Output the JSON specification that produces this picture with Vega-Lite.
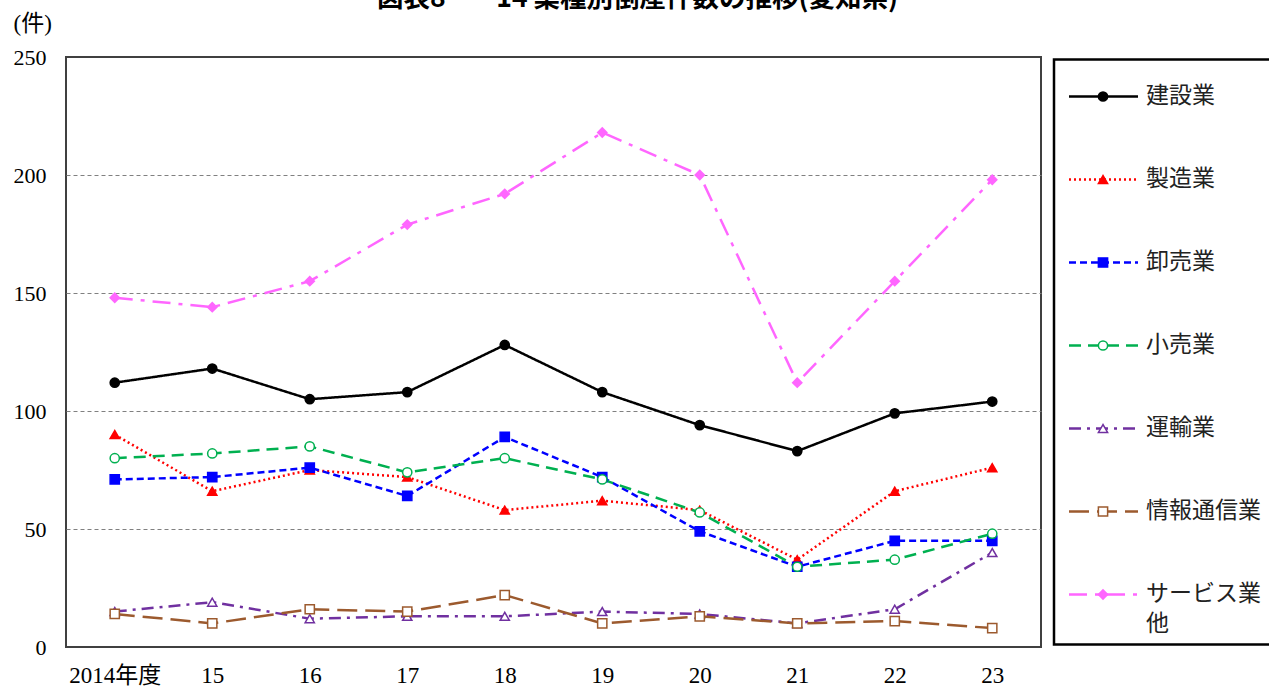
{
  "$schema": "https://vega.github.io/schema/vega-lite/v6.json",
  "autosize": {"type": "pad"},
  "padding": {"left": 12, "top": -15, "right": -3, "bottom": 0},
  "background": "white",
  "bounds": "flush",
  "center": true,
  "spacing": 13,
  "title": {"text": "図表8\u00a0\u00a0－\u00a0\u00a014\u00a0業種別倒産件数の推移(愛知県)", "font": "Noto Sans CJK JP", "fontSize": 26.5, "fontWeight": "bold", "anchor": "middle", "dx": -5, "baseline": "alphabetic", "offset": -22, "color": "black"},
  "datasets": {
    "counts": [
      {"series": "建設業", "year": 2014, "count": 112}, {"series": "建設業", "year": 2015, "count": 118}, {"series": "建設業", "year": 2016, "count": 105}, {"series": "建設業", "year": 2017, "count": 108}, {"series": "建設業", "year": 2018, "count": 128}, {"series": "建設業", "year": 2019, "count": 108}, {"series": "建設業", "year": 2020, "count": 94}, {"series": "建設業", "year": 2021, "count": 83}, {"series": "建設業", "year": 2022, "count": 99}, {"series": "建設業", "year": 2023, "count": 104},
      {"series": "製造業", "year": 2014, "count": 90}, {"series": "製造業", "year": 2015, "count": 66}, {"series": "製造業", "year": 2016, "count": 75}, {"series": "製造業", "year": 2017, "count": 72}, {"series": "製造業", "year": 2018, "count": 58}, {"series": "製造業", "year": 2019, "count": 62}, {"series": "製造業", "year": 2020, "count": 58}, {"series": "製造業", "year": 2021, "count": 37}, {"series": "製造業", "year": 2022, "count": 66}, {"series": "製造業", "year": 2023, "count": 76},
      {"series": "卸売業", "year": 2014, "count": 71}, {"series": "卸売業", "year": 2015, "count": 72}, {"series": "卸売業", "year": 2016, "count": 76}, {"series": "卸売業", "year": 2017, "count": 64}, {"series": "卸売業", "year": 2018, "count": 89}, {"series": "卸売業", "year": 2019, "count": 72}, {"series": "卸売業", "year": 2020, "count": 49}, {"series": "卸売業", "year": 2021, "count": 34}, {"series": "卸売業", "year": 2022, "count": 45}, {"series": "卸売業", "year": 2023, "count": 45},
      {"series": "小売業", "year": 2014, "count": 80}, {"series": "小売業", "year": 2015, "count": 82}, {"series": "小売業", "year": 2016, "count": 85}, {"series": "小売業", "year": 2017, "count": 74}, {"series": "小売業", "year": 2018, "count": 80}, {"series": "小売業", "year": 2019, "count": 71}, {"series": "小売業", "year": 2020, "count": 57}, {"series": "小売業", "year": 2021, "count": 34}, {"series": "小売業", "year": 2022, "count": 37}, {"series": "小売業", "year": 2023, "count": 48},
      {"series": "運輸業", "year": 2014, "count": 15}, {"series": "運輸業", "year": 2015, "count": 19}, {"series": "運輸業", "year": 2016, "count": 12}, {"series": "運輸業", "year": 2017, "count": 13}, {"series": "運輸業", "year": 2018, "count": 13}, {"series": "運輸業", "year": 2019, "count": 15}, {"series": "運輸業", "year": 2020, "count": 14}, {"series": "運輸業", "year": 2021, "count": 10}, {"series": "運輸業", "year": 2022, "count": 16}, {"series": "運輸業", "year": 2023, "count": 40},
      {"series": "情報通信業", "year": 2014, "count": 14}, {"series": "情報通信業", "year": 2015, "count": 10}, {"series": "情報通信業", "year": 2016, "count": 16}, {"series": "情報通信業", "year": 2017, "count": 15}, {"series": "情報通信業", "year": 2018, "count": 22}, {"series": "情報通信業", "year": 2019, "count": 10}, {"series": "情報通信業", "year": 2020, "count": 13}, {"series": "情報通信業", "year": 2021, "count": 10}, {"series": "情報通信業", "year": 2022, "count": 11}, {"series": "情報通信業", "year": 2023, "count": 8},
      {"series": "サービス業他", "year": 2014, "count": 148}, {"series": "サービス業他", "year": 2015, "count": 144}, {"series": "サービス業他", "year": 2016, "count": 155}, {"series": "サービス業他", "year": 2017, "count": 179}, {"series": "サービス業他", "year": 2018, "count": 192}, {"series": "サービス業他", "year": 2019, "count": 218}, {"series": "サービス業他", "year": 2020, "count": 200}, {"series": "サービス業他", "year": 2021, "count": 112}, {"series": "サービス業他", "year": 2022, "count": 155}, {"series": "サービス業他", "year": 2023, "count": 198}
    ],
    "legend": [
      {"series": "建設業", "label": "建設業"},
      {"series": "製造業", "label": "製造業"},
      {"series": "卸売業", "label": "卸売業"},
      {"series": "小売業", "label": "小売業"},
      {"series": "運輸業", "label": "運輸業"},
      {"series": "情報通信業", "label": "情報通信業"},
      {"series": "サービス業他", "label": "サービス業\n他"}
    ]
  },
  "hconcat": [
    {
      "width": 975,
      "height": 590,
      "data": {"name": "counts"},
      "view": {"stroke": "#404040", "strokeWidth": 2},
      "encoding": {
        "x": {"field": "year", "type": "ordinal", "scale": {"type": "point", "padding": 0.5},
          "axis": {"title": null, "labelExpr": "datum.value == 2014 ? '2014年度' : slice(toString(datum.value), 2)", "ticks": false, "domain": false, "grid": false, "labelAngle": 0, "labelFont": "'Liberation Serif', 'Noto Sans CJK JP'", "labelFontSize": 23, "labelColor": "black", "labelPadding": 17}},
        "y": {"field": "count", "type": "quantitative", "scale": {"domain": [0, 250], "nice": false},
          "axis": {"values": [0, 50, 100, 150, 200, 250], "title": "(件)", "titleAngle": 0, "titleAlign": "left", "titleBaseline": "middle", "titleX": -53, "titleY": -34, "titleFont": "'Liberation Serif', 'Noto Sans CJK JP'", "titleFontSize": 23, "titleFontWeight": "normal", "titleColor": "black", "ticks": false, "domain": false, "labelPadding": 20, "labelFont": "'Liberation Serif'", "labelFontSize": 22, "labelColor": "black", "grid": true, "gridColor": "#808080", "gridDash": [4, 3], "gridWidth": 1, "gridOpacity": {"condition": {"test": "datum.value == 0 || datum.value == 250", "value": 0}, "value": 1}}}
      },
      "layer": [
        {
          "mark": {"type": "line", "strokeWidth": 2.5},
          "encoding": {
            "stroke": {"field": "series", "type": "nominal", "scale": {"domain": ["建設業", "製造業", "卸売業", "小売業", "運輸業", "情報通信業", "サービス業他"], "range": ["#000000", "#FF0000", "#0000FF", "#00B050", "#7030A0", "#9C5A2E", "#FF66FF"]}, "legend": null},
            "strokeDash": {"field": "series", "type": "nominal", "scale": {"domain": ["建設業", "製造業", "卸売業", "小売業", "運輸業", "情報通信業", "サービス業他"], "range": [[1, 0], [2, 3], [7, 4], [12, 7], [12, 6, 3, 6], [20, 8], [18, 8, 4, 8]]}, "legend": null}
          }
        },
        {
          "mark": {"type": "point", "filled": true, "strokeWidth": 1.5, "opacity": 1, "size": 85},
          "encoding": {
            "shape": {"field": "series", "type": "nominal", "scale": {"domain": ["建設業", "製造業", "卸売業", "小売業", "運輸業", "情報通信業", "サービス業他"], "range": ["circle", "triangle-up", "square", "circle", "triangle-up", "square", "diamond"]}, "legend": null},
            "fill": {"field": "series", "type": "nominal", "scale": {"domain": ["建設業", "製造業", "卸売業", "小売業", "運輸業", "情報通信業", "サービス業他"], "range": ["#000000", "#FF0000", "#0000FF", "#FFFFFF", "#FFFFFF", "#FFFFFF", "#FF66FF"]}, "legend": null},
            "stroke": {"field": "series", "type": "nominal", "legend": null}
          }
        }
      ]
    },
    {
      "width": 218,
      "height": 585,
      "data": {"name": "legend"},
      "view": {"stroke": "black", "strokeWidth": 2.5},
      "encoding": {
        "y": {"field": "series", "type": "nominal", "scale": {"type": "point", "padding": 0, "domain": ["建設業", "製造業", "卸売業", "小売業", "運輸業", "情報通信業", "サービス業他"], "range": [37, 535]}, "axis": null}
      },
      "layer": [
        {
          "mark": {"type": "rule", "strokeWidth": 2.5},
          "encoding": {
            "x": {"datum": 15, "type": "quantitative", "scale": {"domain": [0, 218], "nice": false, "zero": false}, "axis": null},
            "x2": {"datum": 84},
            "stroke": {"field": "series", "type": "nominal", "legend": null},
            "strokeDash": {"field": "series", "type": "nominal", "legend": null}
          }
        },
        {
          "mark": {"type": "point", "filled": true, "strokeWidth": 1.5, "opacity": 1, "size": 85},
          "encoding": {
            "x": {"datum": 49, "type": "quantitative"},
            "shape": {"field": "series", "type": "nominal", "legend": null},
            "fill": {"field": "series", "type": "nominal", "legend": null},
            "stroke": {"field": "series", "type": "nominal", "legend": null}
          }
        },
        {
          "mark": {"type": "text", "align": "left", "baseline": "top", "dy": -12, "font": "Noto Sans CJK JP", "fontSize": 23, "lineBreak": "\n", "lineHeight": 30, "color": "#222222"},
          "encoding": {
            "x": {"datum": 92, "type": "quantitative"},
            "text": {"field": "label"}
          }
        }
      ]
    }
  ]
}
